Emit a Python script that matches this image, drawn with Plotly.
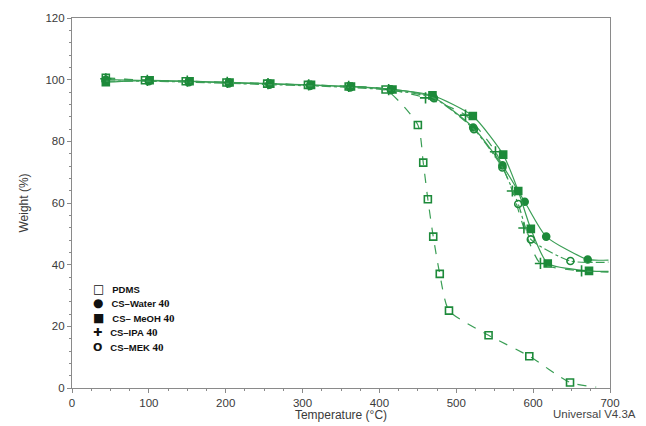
import plotly.graph_objects as go

# ---------------- data ----------------
pdms_t = [44, 95, 148, 201, 254, 307, 360, 408, 450, 457, 463, 470, 478.5, 490.5, 542, 595, 648, 682]
pdms_w = [100.6, 99.8, 99.5, 99.1, 98.7, 98.3, 97.8, 96.8, 85.3, 73.1, 61.2, 49.1, 37.0, 25.1, 17.1, 10.3, 1.8, 0.3]

water_t = [44, 100, 152, 204, 257, 310, 362, 415, 470, 522, 560, 589, 617, 671, 698]
water_w = [100.0, 99.7, 99.4, 99.0, 98.6, 98.2, 97.7, 96.9, 94.3, 84.5, 72.2, 60.4, 49.1, 41.7, 41.5]

meoh_t = [44, 101, 153, 205, 258, 311, 363, 417, 469, 521.5, 561, 580.6, 597, 619, 672.7, 698]
meoh_w = [99.2, 99.8, 99.5, 99.1, 98.7, 98.3, 97.8, 96.8, 94.9, 88.2, 75.7, 63.9, 51.6, 40.4, 38.0, 37.8]

ipa_t = [44, 98, 150, 202, 255, 308, 360, 412, 460, 512, 551, 573, 588, 609.5, 663, 698]
ipa_w = [100.3, 99.8, 99.5, 99.1, 98.7, 98.3, 97.8, 96.8, 94.1, 88.5, 76.6, 63.9, 51.9, 40.4, 38.0, 37.6]

mek_t = [44, 100, 152, 204, 257, 310, 362, 415, 471, 523, 560, 580.6, 597, 648.5, 698]
mek_w = [99.5, 99.5, 99.2, 98.8, 98.4, 98.0, 97.5, 96.6, 94.0, 83.9, 71.5, 59.7, 48.2, 41.2, 40.8]

series_names = ["PDMS", "CS\u2013Water", "CS\u2013 MeOH", "CS\u2013IPA", "CS\u2013MEK"]
series_suffix = ["", "40", "40", "40", "40"]
legend_glyphs = ["\u25a1", "\u25cf", "\u25a0", "\u271a", "O"]

x_ticks = [0, 100, 200, 300, 400, 500, 600, 700]
y_ticks = [0, 20, 40, 60, 80, 100, 120]

# ---------------- styles ----------------
LINE = "#3a9e55"
MARK = "#1d8a3a"
symbols = ["square-open", "circle", "square", "cross-thin-open", "circle-open"]
dashes = ["dash", "solid", "solid", "dash", "dashdot"]
sizes = [7, 7, 7, 8, 7]

data = [(pdms_t, pdms_w), (water_t, water_w), (meoh_t, meoh_w), (ipa_t, ipa_w), (mek_t, mek_w)]

fig = go.Figure()
for i, (t, w) in enumerate(data):
    # continuous curve
    fig.add_trace(go.Scatter(
        x=t, y=w, mode="lines", showlegend=False, hoverinfo="skip",
        line=dict(color=LINE, width=1.2, dash=dashes[i], shape="spline", smoothing=0.6)))
    # markers (last point is the curve end, no marker)
    fig.add_trace(go.Scatter(
        x=t[:-1], y=w[:-1], mode="markers", name=series_names[i], showlegend=False,
        marker=dict(symbol=symbols[i], size=sizes[i], color=MARK,
                    line=dict(color=MARK, width=1.6))))

# legend drawn as text lines (compact spacing like the original)
annotations = []
leg_x = 0.036
leg_top = 0.268
leg_step = 0.0395
glyph_sizes = [12, 12, 12, 11, 11]
for i, name in enumerate(series_names):
    label = ('<span style="font-family:\'DejaVu Sans\'; font-size:%dpx"><b>%s</b></span>   ' % (glyph_sizes[i], legend_glyphs[i])
             + "<b>" + name + "</b>")
    if series_suffix[i]:
        label += ' <span style="font-family:\'Liberation Serif\', serif; font-size:11px"><b>' + series_suffix[i] + "</b></span>"
    annotations.append(dict(text=label, xref="paper", yref="paper",
                            x=leg_x, y=leg_top - i * leg_step,
                            xanchor="left", yanchor="middle", showarrow=False,
                            font=dict(family="Liberation Sans, Arial", size=9.5, color="#111")))

annotations.append(dict(text="Universal V4.3A", xref="paper", yref="paper",
                        x=1.05, y=-0.069, xanchor="right", yanchor="middle",
                        showarrow=False, borderpad=0,
                        font=dict(family="Liberation Sans, Arial", size=11.5, color="#444")))

axis_common = dict(
    showline=True, linecolor="#8a8a8a", linewidth=1.2, mirror=True,
    showgrid=False, zeroline=False, automargin=False,
    ticks="outside", ticklen=4, tickcolor="#8a8a8a",
    tickfont=dict(family="Liberation Sans, Arial", size=11.5, color="#3a3a3a"),
)

# page body has an 8px margin, so the figure is sized/placed to compensate
fig.update_layout(
    width=630, height=414,
    margin=dict(l=64, r=28, t=10, b=34),
    paper_bgcolor="white", plot_bgcolor="white",
    font=dict(family="Liberation Sans, Arial", color="#444"),
    showlegend=False,
    xaxis=dict(range=[0, 700], tickvals=x_ticks, **axis_common,
               minor=dict(dtick=25, ticks="outside", ticklen=2, tickcolor="#8a8a8a"),
               title=dict(text="Temperature (\u00b0C)", standoff=5,
                          font=dict(family="Liberation Sans, Arial", size=12, color="#3a3a3a"))),
    yaxis=dict(range=[0, 120], tickvals=y_ticks, **axis_common,
               minor=dict(dtick=4, ticks="outside", ticklen=2, tickcolor="#8a8a8a"),
               title=dict(text="Weight (%)", standoff=14,
                          font=dict(family="Liberation Sans, Arial", size=12, color="#3a3a3a"))),
    annotations=annotations,
)

fig.write_html("out.html")
